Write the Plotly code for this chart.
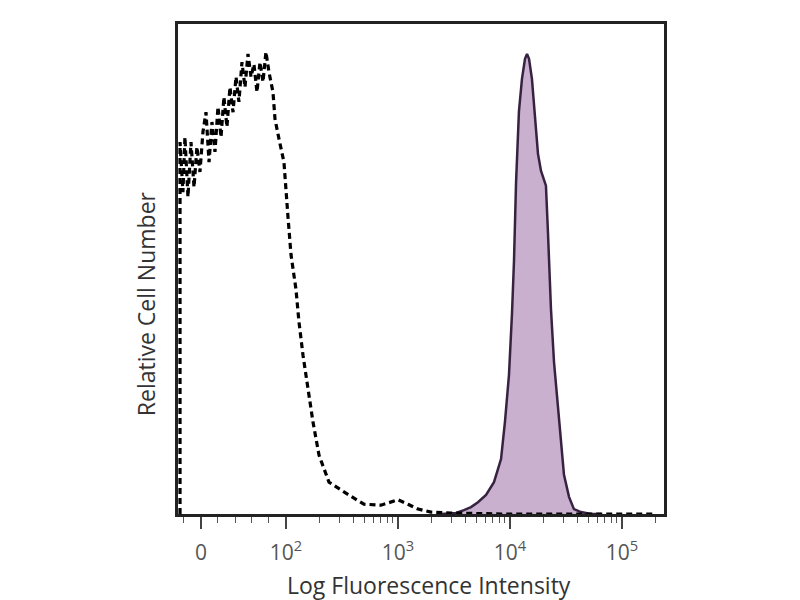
import math
import plotly.graph_objects as go

# Display coordinate: decades (biexponential-like axis), 0 shown at ~1.24
isotype_x = [1.054, 1.054, 1.080, 1.098, 1.125, 1.152, 1.179, 1.205, 1.232, 1.259, 1.286, 1.313,
             1.339, 1.366, 1.393, 1.420, 1.446, 1.473, 1.500, 1.527, 1.554, 1.580, 1.607, 1.634,
             1.661, 1.688, 1.714, 1.741, 1.768, 1.795, 1.821, 1.848, 1.884, 1.902, 1.938, 1.982,
             2.018, 2.045, 2.089, 2.116, 2.152, 2.196, 2.241, 2.295, 2.384, 2.518, 2.696, 2.848,
             3.000, 3.089, 3.179, 3.295, 3.473, 3.920, 4.455, 4.991, 5.304]
isotype_y = [0, 75.9, 65.7, 76.9, 64.7, 75.9, 66.7, 74.9, 69.8, 78.0, 82.0, 71.8,
             80.0, 73.9, 83.1, 76.9, 85.1, 79.0, 87.1, 82.0, 89.2, 84.1, 92.2, 87.1,
             93.9, 89.2, 91.8, 86.1, 92.2, 88.2, 94.3, 90.2, 86.1, 80.6, 76.5, 71.8,
             60.6, 52.9, 45.9, 39.2, 32.4, 25.5, 18.8, 12.0, 6.5, 4.5, 2.0, 1.8,
             2.9, 2.0, 1.0, 0.4, 0.2, 0, 0, 0, 0]

stained_x = [3.384, 3.518, 3.589, 3.652, 3.714, 3.786, 3.857, 3.920, 3.955, 3.991, 4.018, 4.036,
             4.054, 4.080, 4.107, 4.134, 4.152, 4.170, 4.196, 4.223, 4.250, 4.277, 4.321, 4.339,
             4.366, 4.393, 4.429, 4.455, 4.482, 4.527, 4.571, 4.634, 4.723, 4.813]
stained_y = [0, 0.2, 0.8, 1.4, 2.4, 3.9, 6.5, 11.2, 18.8, 28.4, 41.0, 51.8,
             67.6, 82.2, 88.8, 92.9, 93.9, 92.9, 88.8, 81.6, 73.5, 70.0, 67.0, 57.5,
             41.8, 31.0, 21.6, 14.9, 8.0, 3.5, 1.0, 0.4, 0, 0]

tick_vals = [1.241, 2, 3, 4, 5]
tick_text = ["0", "10<sup>2</sup>", "10<sup>3</sup>", "10<sup>4</sup>", "10<sup>5</sup>"]
linear_minor = [1.089, 1.393, 1.545, 1.696, 1.848]
minor_vals = linear_minor + [d + math.log10(k) for d in (2, 3, 4) for k in range(2, 10)] + [5 + math.log10(2), 5 + math.log10(3)]

x_title = "Log Fluorescence Intensity"
y_title = "Relative Cell Number"

fig = go.Figure()
fig.add_trace(go.Scatter(x=stained_x, y=stained_y, mode="lines", fill="tozeroy",
                         fillcolor="rgb(200,176,206)",
                         line=dict(color="rgb(55,35,65)", width=2.5), hoverinfo="skip"))
fig.add_trace(go.Scatter(x=isotype_x, y=isotype_y, mode="lines",
                         line=dict(color="black", width=3.2, dash="6px,4px"), hoverinfo="skip"))

fig.update_layout(
    width=800, height=600,
    margin=dict(l=170, r=144, t=16, b=94),
    paper_bgcolor="white", plot_bgcolor="white",
    showlegend=False,
    font=dict(family="Open Sans, Noto Sans, sans-serif", color="#333"),
    annotations=[
        dict(text=x_title, xref="paper", yref="paper", x=0.516, y=-0.145,
             xanchor="center", yanchor="middle", showarrow=False,
             font=dict(size=23, color="#333")),
        dict(text=y_title, xref="paper", yref="paper", x=-0.066, y=0.43,
             xanchor="center", yanchor="middle", showarrow=False, textangle=-90,
             font=dict(size=23, color="#333")),
    ],
)
fig.update_xaxes(
    range=[1.036, 5.375], showgrid=False, zeroline=False, automargin=False,
    showline=True, linecolor="#222", linewidth=2.5, mirror=True,
    tickmode="array", tickvals=tick_vals, ticktext=tick_text,
    ticks="outside", ticklen=12, tickwidth=1.5, tickcolor="#444",
    ticklabelstandoff=6,
    tickfont=dict(size=21, color="#555"),
    minor=dict(tickmode="array", tickvals=minor_vals, ticks="outside", ticklen=6,
               tickwidth=1.2, tickcolor="#555"),
)
fig.update_yaxes(
    range=[0, 100], showgrid=False, zeroline=False, automargin=False,
    showline=True, linecolor="#222", linewidth=2.5, mirror=True,
    showticklabels=False, ticks="",
)

fig.write_html("out.html")
